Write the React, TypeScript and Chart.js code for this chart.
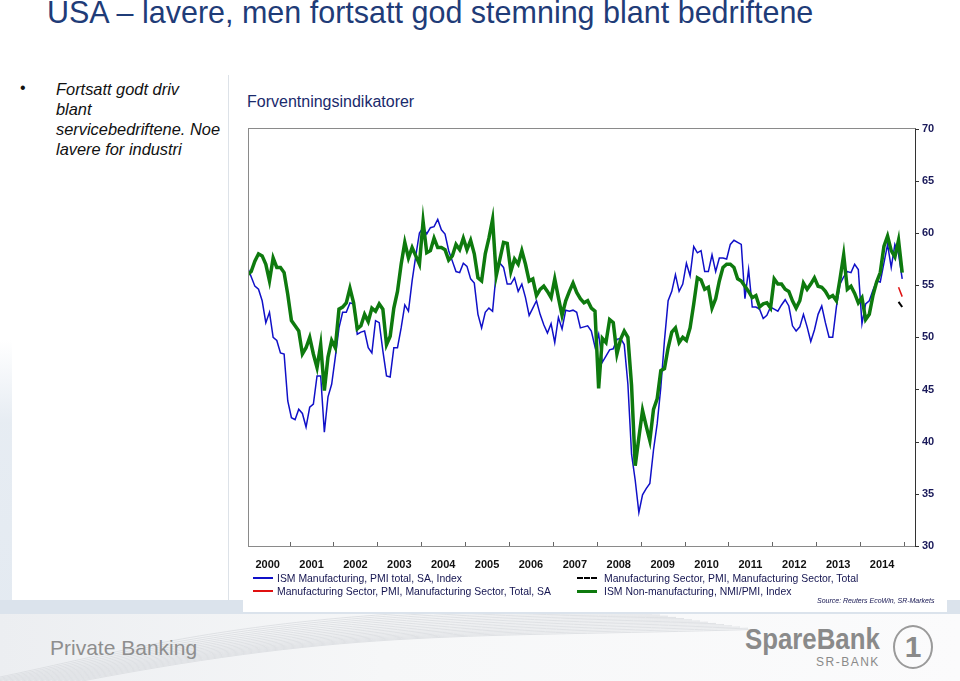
import React, { useEffect, useRef } from "react";
import { Chart, registerables } from "chart.js";

Chart.register(...registerables);

// Month index 0 = Jan 2000 ... 179 = Dec 2014
const years = ["2000", "2001", "2002", "2003", "2004", "2005", "2006", "2007", "2008", "2009", "2010", "2011", "2012", "2013", "2014"];

const ismManufacturing = [
  56.7, 55.8, 54.9, 54.6, 53.5, 51.4, 52.4, 50.0, 49.7, 48.5, 48.4, 43.9,
  42.3, 42.1, 43.1, 42.7, 41.4, 43.3, 43.6, 46.3, 46.3, 40.9, 44.3, 45.5,
  48.1, 50.9, 52.4, 52.4, 53.3, 53.2, 50.3, 50.5, 50.6, 49.0, 48.5, 51.6,
  51.4, 48.7, 46.3, 46.2, 49.0, 49.0, 50.9, 53.1, 52.5, 55.4, 57.8, 60.0,
  60.5, 59.9, 60.5, 60.6, 61.3, 60.3, 59.9, 58.3, 57.3, 56.3, 56.2, 57.1,
  56.8, 55.6, 55.2, 52.2, 50.9, 52.4, 52.8, 52.5, 56.2, 57.1, 56.7, 55.1,
  55.1, 55.7, 54.4, 55.1, 53.8, 52.1, 52.8, 53.5, 52.2, 51.2, 50.4, 51.3,
  49.5, 51.9, 50.8, 52.6, 52.5, 52.6, 52.4, 50.9, 51.0, 51.1, 50.6, 49.1,
  50.3, 47.6, 48.2, 48.8, 48.9, 49.8, 49.9, 49.3, 45.5, 38.8, 36.3, 33.2,
  34.9, 35.5, 36.0, 39.2, 41.7, 45.2, 49.7, 53.5, 54.4, 56.0, 54.4, 55.1,
  57.1, 55.9, 58.7, 58.1, 58.3, 56.3, 56.3, 57.9, 56.3, 57.6, 57.6, 57.5,
  58.9, 59.3, 59.1, 58.9, 53.7, 56.5, 52.9, 52.9, 52.7, 51.8, 52.1, 52.9,
  52.7, 52.5, 53.1, 53.6, 53.0, 51.1, 50.6, 51.0, 52.2, 51.0, 49.6, 50.7,
  52.2, 53.0, 51.4, 50.0, 50.0, 52.9, 55.1, 55.8, 56.3, 56.2, 57.0, 56.5,
  51.3, 53.2, 53.5, 54.5, 55.4, 55.3, 57.1, 58.9, 56.7, 58.9, 58.0, 55.6,
];

const ismNonManufacturing = [
  56.0, 56.3, 57.3, 58.0, 57.8, 57.0, 55.4, 57.6, 56.7, 56.7, 56.2, 54.1,
  51.6, 51.1, 50.6, 48.4, 49.0, 50.0, 48.4, 47.1, 49.3, 44.9, 48.1, 49.7,
  49.0, 52.7, 52.9, 53.3, 54.7, 53.3, 50.8, 51.1, 52.2, 51.5, 52.8, 52.5,
  53.2, 52.7, 49.3, 50.1, 52.8, 54.4, 57.0, 59.1, 57.6, 58.6, 57.8, 57.0,
  61.1, 58.1, 58.3, 59.5, 58.6, 58.6, 58.4, 57.4, 57.8, 58.9, 58.4, 59.5,
  58.4, 59.3, 58.0, 55.7, 55.4, 58.0, 59.5, 61.3, 55.9, 57.5, 59.1, 59.0,
  56.3, 57.5, 57.0, 58.3, 57.0, 55.4, 55.6, 54.0, 54.6, 54.9, 54.4, 53.8,
  55.6, 53.8, 52.1, 53.5, 54.4, 55.2, 54.3, 53.7, 53.3, 53.5, 52.8, 52.5,
  45.1, 49.9, 49.5, 51.7, 51.4, 48.4, 49.8, 50.6, 50.0, 45.4, 37.7, 40.4,
  43.0, 41.5, 40.1, 43.1, 44.1, 46.8, 47.0, 49.0, 50.5, 50.9, 49.5, 50.0,
  49.7, 50.9, 53.2, 55.7, 55.5, 54.6, 54.8, 52.8, 53.7, 55.4, 56.7, 57.0,
  57.0, 56.7, 55.6, 55.4, 54.9, 54.4, 53.8, 54.0, 52.9, 53.2, 53.3, 52.8,
  55.6, 55.1, 55.1, 54.6, 54.4, 53.5, 52.8, 53.5, 55.2, 54.6, 55.1, 55.7,
  54.9, 54.8, 54.4, 53.8, 54.0, 53.5, 55.6, 57.9, 54.6, 54.9, 54.2, 53.3,
  53.8, 51.7, 52.2, 54.0, 55.3, 56.2, 58.7, 59.7, 58.3, 57.7, 59.3, 56.2,
];

const markitMonths = [178, 179];
const markitSA = [54.8, 53.9];
const mfgTotalMonths = [178, 179];
const mfgTotal = [53.4, 52.9];

const yTicks = [30, 35, 40, 45, 50, 55, 60, 65, 70];

const seriesNames = [
  "ISM Manufacturing, PMI total, SA, Index",
  "Manufacturing Sector, PMI, Manufacturing Sector, Total, SA",
  "Manufacturing Sector, PMI, Manufacturing Sector, Total",
  "ISM Non-manufacturing, NMI/PMI, Index",
];

const monthly = (vals: number[]) => vals.map((v, i) => ({ x: i, y: v }));
const paired = (xs: number[], vals: number[]) => vals.map((v, i) => ({ x: xs[i], y: v }));

const framePlugin = {
  id: "frame",
  afterDatasetsDraw(chart: any) {
    const { ctx, chartArea } = chart;
    const { left, top, right, bottom } = chartArea;
    const xs = chart.scales.x;
    const ys = chart.scales.y;
    ctx.save();
    ctx.lineWidth = 1;
    ctx.strokeStyle = "#8a8a8a";
    ctx.strokeRect(Math.round(left) - 0.5, Math.round(top) - 0.5, Math.round(right - left) + 1, Math.round(bottom - top) + 1);
    ctx.strokeStyle = "#333";
    ctx.beginPath();
    ctx.moveTo(Math.round(right) + 0.5, top);
    ctx.lineTo(Math.round(right) + 0.5, bottom);
    yTicks.forEach((v) => {
      const y = Math.round(ys.getPixelForValue(v)) + 0.5;
      ctx.moveTo(right, y);
      ctx.lineTo(right + 4, y);
    });
    ctx.stroke();
    ctx.strokeStyle = "#666";
    ctx.beginPath();
    for (let k = 1; k <= years.length; k++) {
      const x = Math.round(xs.getPixelForValue(12 * k - 0.5)) + 0.5;
      if (x > right) break;
      ctx.moveTo(x, bottom);
      ctx.lineTo(x, bottom - 4);
    }
    ctx.stroke();
    ctx.restore();
  },
};

function ChartPanel() {
  const ref = useRef<HTMLCanvasElement | null>(null);
  useEffect(() => {
    if (!ref.current) return;
    const chart = new Chart(ref.current, {
      type: "line",
      data: {
        datasets: [
          {
            label: seriesNames[3],
            data: monthly(ismNonManufacturing),
            borderColor: "#0e7a0e",
            borderWidth: 3.5,
            pointRadius: 0,
            tension: 0,
            clip: 0,
          },
          {
            label: seriesNames[0],
            data: monthly(ismManufacturing),
            borderColor: "#1010c8",
            borderWidth: 1.5,
            pointRadius: 0,
            tension: 0,
            clip: 0,
          },
          {
            label: seriesNames[1],
            data: paired(markitMonths, markitSA),
            borderColor: "#e01010",
            borderWidth: 1.5,
            pointRadius: 0,
            tension: 0,
            clip: 0,
          },
          {
            label: seriesNames[2],
            data: paired(mfgTotalMonths, mfgTotal),
            borderColor: "#000",
            borderWidth: 2,
            pointRadius: 0,
            tension: 0,
            clip: 0,
          },
        ],
      } as any,
      options: {
        animation: false,
        responsive: false,
        maintainAspectRatio: false,
        layout: { padding: { left: 9, top: 12, right: 0, bottom: 0 } },
        plugins: { legend: { display: false }, tooltip: { enabled: false } },
        scales: {
          x: {
            type: "linear",
            min: 0.4,
            max: 182.5,
            afterBuildTicks: (s: any) => {
              s.ticks = years.map((_, k) => ({ value: 5.5 + 12 * k }));
            },
            afterFit: (s: any) => {
              s.height = 29;
            },
            grid: { display: false, drawTicks: false },
            border: { display: false },
            ticks: {
              autoSkip: false,
              maxRotation: 0,
              padding: 12,
              color: "#111",
              font: { family: "Arial, 'Liberation Sans'", size: 11, weight: "bold" },
              callback: (_v: any, idx: number) => years[idx],
            },
          },
          y: {
            position: "right",
            min: 30,
            max: 70,
            afterBuildTicks: (s: any) => {
              s.ticks = yTicks.map((v) => ({ value: v }));
            },
            afterFit: (s: any) => {
              s.width = 30;
            },
            grid: { display: false, drawTicks: false },
            border: { display: false },
            ticks: {
              padding: 7,
              color: "#1a1a5a",
              font: { family: "Arial, 'Liberation Sans'", size: 11, weight: "bold" },
            },
          },
        },
      } as any,
      plugins: [framePlugin],
    });
    return () => chart.destroy();
  }, []);
  return <canvas ref={ref} width={705} height={460} style={{ position: "absolute", left: 240, top: 115, width: 705, height: 460 }} />;
}

function LegendItem({ x, y, kind, text, textLeft }: { x: number; y: number; kind: string; text: string; textLeft: number }) {
  let swatch: React.ReactNode;
  if (kind === "dash") {
    swatch = <div style={{ position: "absolute", left: 0, top: 6, width: 20, height: 0, borderTop: "2px dashed #000" }} />;
  } else {
    const color = kind === "blue" ? "#1010c8" : kind === "red" ? "#e01010" : "#0e7a0e";
    const h = kind === "green" ? 3 : 1.5;
    swatch = <div style={{ position: "absolute", left: 0, top: 7 - h / 2, width: 20, height: h, background: color }} />;
  }
  return (
    <div style={{ position: "absolute", left: x, top: y, height: 14, whiteSpace: "nowrap" }}>
      {swatch}
      <span
        style={{
          position: "absolute",
          left: textLeft,
          top: 0,
          fontSize: 11,
          lineHeight: "14px",
          color: "#141450",
          fontFamily: "Arial, 'Liberation Sans'",
          display: "inline-block",
          transform: "scaleX(0.946)",
          transformOrigin: "left center",
        }}
      >
        {text}
      </span>
    </div>
  );
}

const wavePaths = Array.from({ length: 18 }, (_, k) => k);

export default function App() {
  useEffect(() => {
    document.body.style.margin = "0";
  }, []);
  return (
    <div style={{ position: "relative", width: 960, height: 681, overflow: "hidden", background: "#fff", fontFamily: "Arial, 'Liberation Sans', sans-serif" }}>
      <div style={{ position: "absolute", left: 47, top: -5, fontSize: 30.5, color: "#1f3c78", whiteSpace: "nowrap" }}>
        USA – lavere, men fortsatt god stemning blant bedriftene
      </div>
      <div style={{ position: "absolute", left: 20, top: 79, fontSize: 16, color: "#111" }}>•</div>
      <div style={{ position: "absolute", left: 56, top: 79, fontSize: 16.4, lineHeight: "20px", fontStyle: "italic", color: "#111", whiteSpace: "nowrap" }}>
        Fortsatt godt driv
        <br />
        blant
        <br />
        servicebedriftene. Noe
        <br />
        lavere for industri
      </div>
      <div style={{ position: "absolute", left: 0, top: 340, width: 12, height: 274, background: "linear-gradient(180deg, rgba(221,229,238,0), rgba(221,229,238,0.9) 30%, #dde5ee)", opacity: 0.8 }} />
      <div style={{ position: "absolute", left: 228, top: 75, width: 1, height: 540, background: "#dde2e8" }} />
      <div style={{ position: "absolute", left: 0, top: 600, width: 960, height: 14, background: "#dbe3ec" }} />
      <div style={{ position: "absolute", left: 243, top: 88, width: 704, height: 524, background: "#fff" }} />
      <div style={{ position: "absolute", left: 247, top: 93, fontSize: 16, color: "#1a2a6c", whiteSpace: "nowrap" }}>Forventningsindikatorer</div>
      <ChartPanel />
      <LegendItem x={253} y={571} kind="blue" text={seriesNames[0]} textLeft={24} />
      <LegendItem x={253} y={584} kind="red" text={seriesNames[1]} textLeft={24} />
      <LegendItem x={577} y={571} kind="dash" text={seriesNames[2]} textLeft={27} />
      <LegendItem x={577} y={584} kind="green" text={seriesNames[3]} textLeft={27} />
      <div style={{ position: "absolute", left: 817, top: 597, fontSize: 7, fontStyle: "italic", color: "#141450", whiteSpace: "nowrap" }}>
        Source: Reuters EcoWin, SR-Markets
      </div>
      <div style={{ position: "absolute", left: 0, top: 614, width: 960, height: 67, background: "linear-gradient(90deg, #eceef1 0%, #f6f7f8 40%, #fbfbfc 100%)" }} />
      <svg width={960} height={67} style={{ position: "absolute", left: 0, top: 614 }}>
        {wavePaths.map((k) => (
          <path
            key={k}
            d={`M ${-20 + k * 6} 67 C ${120 + k * 14} ${40 - k * 1.5}, ${260 + k * 12} ${-10 + k * 2}, ${620 + k * 8} ${-5 + k * 1.2}`}
            stroke="#d9dce0"
            strokeWidth={0.8}
            fill="none"
          />
        ))}
      </svg>
      <div style={{ position: "absolute", left: 50, top: 636, fontSize: 21, color: "#8e8e8e", whiteSpace: "nowrap" }}>Private Banking</div>
      <div style={{ position: "absolute", left: 745, top: 622, fontSize: 30, fontWeight: 600, color: "#8a8a8a", whiteSpace: "nowrap", transform: "scaleX(0.86)", transformOrigin: "left top" }}>SpareBank</div>
      <div style={{ position: "absolute", left: 816, top: 655, fontSize: 12, color: "#8a8a8a", letterSpacing: 1.5, whiteSpace: "nowrap" }}>SR-BANK</div>
      <div style={{ position: "absolute", left: 893, top: 625, width: 36, height: 40, borderRadius: "50%", border: "2px solid #9a9a9a", color: "#8a8a8a", fontSize: 30, fontWeight: "bold", textAlign: "center", lineHeight: "40px" }}>1</div>
    </div>
  );
}
